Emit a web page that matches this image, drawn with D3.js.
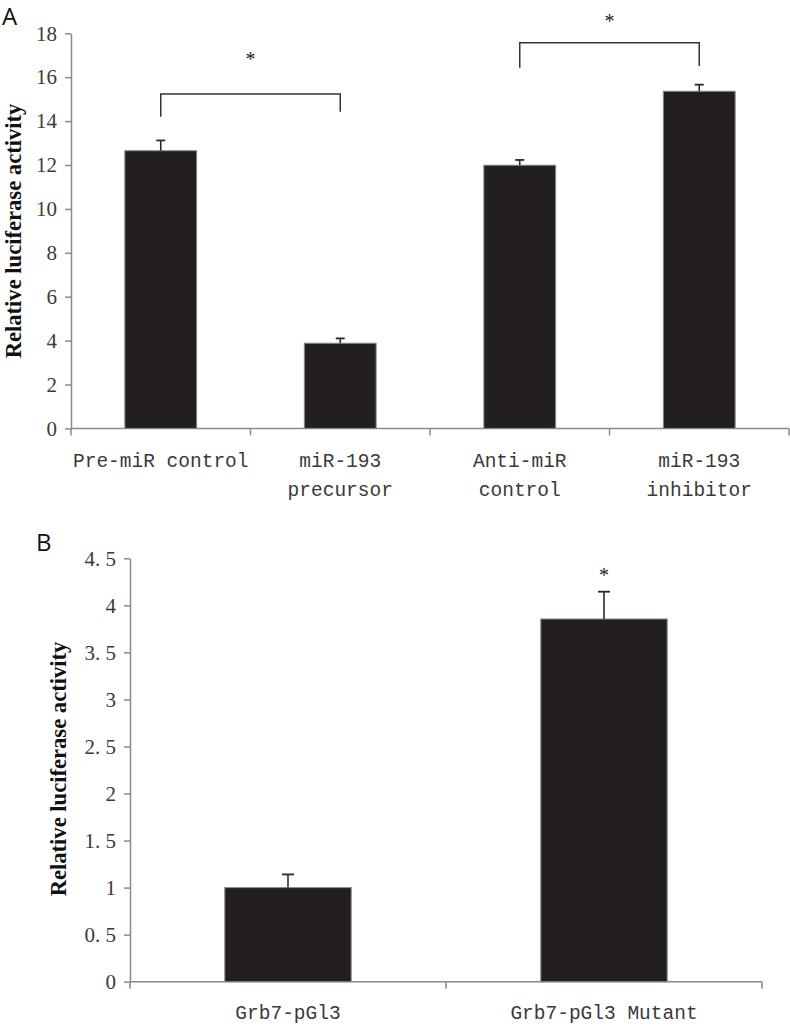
<!DOCTYPE html>
<html><head><meta charset="utf-8">
<script src="https://cdn.jsdelivr.net/npm/d3@7"></script>
<style>body{margin:0;background:#fff}svg{display:block}</style>
</head><body>
<svg id="c" width="790" height="1026"></svg>
<script>
// ---- Panel A data ----
const categoriesA = [["Pre-miR control"], ["miR-193", "precursor"], ["Anti-miR", "control"], ["miR-193", "inhibitor"]];
const valuesA = [12.65, 3.88, 11.99, 15.36];
const errorsA = [0.47, 0.22, 0.24, 0.30];
const ticksA = [0, 2, 4, 6, 8, 10, 12, 14, 16, 18];
const tickLabelsA = ["0", "2", "4", "6", "8", "10", "12", "14", "16", "18"];
// significance brackets: [from index, to index, top value, left foot, right foot, star value]
const bracketsA = [[0, 1, 15.23, 14.2, 14.43, 16.93], [2, 3, 17.57, 16.43, 16.51, 18.64]];

// ---- Panel B data ----
const categoriesB = [["Grb7-pGl3"], ["Grb7-pGl3 Mutant"]];
const valuesB = [1.0, 3.855];
const errorsB = [0.14, 0.29];
const ticksB = [0, 0.5, 1, 1.5, 2, 2.5, 3, 3.5, 4, 4.5];
const tickLabelsB = ["0", "0. 5", "1", "1. 5", "2", "2. 5", "3", "3. 5", "4", "4. 5"];
const starsB = [false, true];

const yTitle = "Relative luciferase activity";
const svg = d3.select("#c");
const axisColor = "#8a8a8a", textColor = "#3a3a3a", barColor = "#231f20";

function panel(opts) {
  const g = svg.append("g");
  const x = d3.scaleBand().domain(d3.range(opts.cats.length)).range(opts.xr).padding(0);
  const y = d3.scaleLinear().domain(opts.yd).range(opts.yr);
  const bw = x.bandwidth() * 0.4;
  const cx = i => x(i) + x.bandwidth() / 2;

  // y axis
  const ya = g.append("g").attr("transform", `translate(${opts.xr[0]},0)`)
    .call(d3.axisLeft(y).tickValues(opts.ticks).tickSize(6).tickSizeOuter(0)
      .tickFormat((d, i) => opts.tickLabels[i]));
  ya.select(".domain").attr("stroke", axisColor).attr("stroke-width", 1.5);
  ya.selectAll(".tick line").attr("stroke", axisColor).attr("stroke-width", 1.5);
  ya.selectAll(".tick text").attr("fill", textColor).attr("x", -14)
    .style("font-family", "'Liberation Serif', serif").style("font-size", "21px");

  // x axis
  const y0 = y(0);
  g.append("line").attr("x1", opts.xr[0]).attr("x2", opts.xr[1]).attr("y1", y0).attr("y2", y0)
    .attr("stroke", axisColor).attr("stroke-width", 1.5);
  const bounds = d3.range(opts.cats.length).map(i => x(i)).concat([opts.xr[1]]);
  g.selectAll(".xt").data(bounds).join("line")
    .attr("x1", d => d).attr("x2", d => d).attr("y1", y0).attr("y2", y0 + 7)
    .attr("stroke", axisColor).attr("stroke-width", 1.5);

  // bars
  g.selectAll(".bar").data(opts.vals).join("rect")
    .attr("x", (d, i) => cx(i) - bw / 2).attr("width", bw)
    .attr("y", d => y(d)).attr("height", d => y0 - y(d))
    .attr("fill", barColor).attr("stroke", "#8a8a8a").attr("stroke-width", 1);

  // error bars
  g.selectAll(".eb").data(opts.vals).join("line")
    .attr("x1", (d, i) => cx(i)).attr("x2", (d, i) => cx(i))
    .attr("y1", d => y(d)).attr("y2", (d, i) => y(d + opts.errs[i]))
    .attr("stroke", "#2a2a2a").attr("stroke-width", 1.6);
  g.selectAll(".ec").data(opts.vals).join("line")
    .attr("x1", (d, i) => cx(i) - opts.cap / 2).attr("x2", (d, i) => cx(i) + opts.cap / 2)
    .attr("y1", (d, i) => y(d + opts.errs[i])).attr("y2", (d, i) => y(d + opts.errs[i]))
    .attr("stroke", "#2a2a2a").attr("stroke-width", 1.8);

  // category labels
  opts.cats.forEach((lines, i) => {
    lines.forEach((t, j) => {
      g.append("text").attr("x", cx(i)).attr("y", opts.labY + j * 28.5)
        .attr("text-anchor", "middle").attr("fill", textColor)
        .style("font-family", "'Liberation Mono', monospace").style("font-size", "19.5px")
        .text(t);
    });
  });

  // y title
  g.append("text").attr("transform", `translate(${opts.titleX},${opts.titleY}) rotate(-90)`)
    .attr("text-anchor", "middle").attr("dominant-baseline", "central").attr("fill", "#111")
    .style("font-family", "'Liberation Serif', serif").style("font-weight", "bold").style("font-size", "22.6px")
    .text(yTitle);

  // panel letter
  g.append("text").attr("x", opts.letter[1]).attr("y", opts.letter[2]).attr("fill", "#111")
    .style("font-family", "'Open Sans', sans-serif").style("font-size", "24px").text(opts.letter[0]);
  return {g, x, y, cx};
}

function star(g, xPos, yCenter) {
  g.append("text").attr("x", xPos).attr("y", yCenter + 9)
    .attr("text-anchor", "middle").attr("fill", "#222")
    .style("font-family", "'Liberation Serif', serif").style("font-size", "20px").text("*");
}

const A = panel({cats: categoriesA, vals: valuesA, errs: errorsA, ticks: ticksA, tickLabels: tickLabelsA,
  xr: [71, 789], yd: [0, 18], yr: [428.4, 33.3], cap: 9, labY: 467, titleX: 13, titleY: 231, letter: ["A", 2, 25]});
bracketsA.forEach(b => {
  const [i, j, top, l, r, s] = b;
  const x1 = A.cx(i), x2 = A.cx(j);
  A.g.append("path")
    .attr("d", `M${x1},${A.y(l)}V${A.y(top)}H${x2}V${A.y(r)}`)
    .attr("fill", "none").attr("stroke", "#333").attr("stroke-width", 1.5);
  star(A.g, (x1 + x2) / 2, A.y(s));
});

const B = panel({cats: categoriesB, vals: valuesB, errs: errorsB, ticks: ticksB, tickLabels: tickLabelsB,
  xr: [130, 762], yd: [0, 4.5], yr: [981.7, 558.3], cap: 12, labY: 1019, titleX: 58, titleY: 769, letter: ["B", 36, 551]});
valuesB.forEach((d, i) => {
  if (starsB[i]) star(B.g, B.cx(i), B.y(d + errorsB[i]) - 19);
});
</script>
</body></html>
